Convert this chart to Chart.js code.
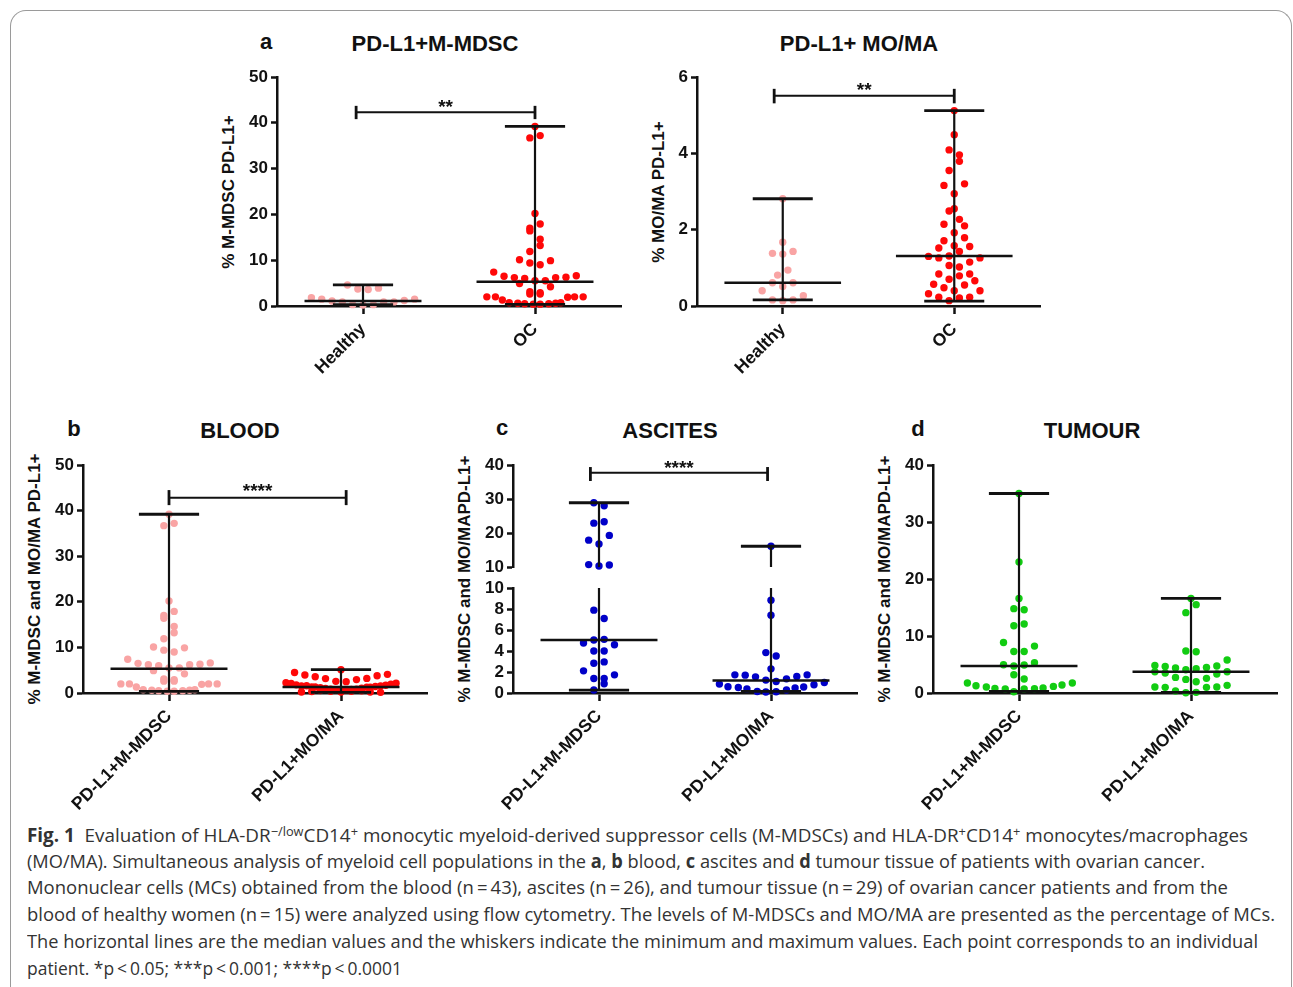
<!DOCTYPE html>
<html>
<head>
<meta charset="utf-8">
<script src="https://cdn.jsdelivr.net/npm/chart.js@4.4.1/dist/chart.umd.min.js"></script>
<style>
  html, body { margin: 0; padding: 0; background: #fff; }
  body { width: 1293px; height: 987px; position: relative; overflow: hidden;
         font-family: "Liberation Sans", Arial, sans-serif; color: #111; }
  .frame { position: absolute; left: 10px; top: 10px; width: 1282px; height: 1000px;
           border: 1px solid #9a9a9a; border-bottom: none; border-radius: 16px 16px 0 0; box-sizing: border-box; }
  canvas { position: absolute; }
  .lbl { position: absolute; font-weight: bold; line-height: 1; white-space: nowrap; transform: translate(-50%, -50%); }
  .ttl { font-size: 22px; }
  .ytitle { position: absolute; font-weight: bold; font-size: 17px; line-height: 1; white-space: nowrap;
            transform: translate(-50%, -50%) rotate(-90deg); }
  .cap { position: absolute; left: 27px; font-family: "Open Sans", "Noto Sans", sans-serif; font-size: 19px;
         line-height: 26px; color: #333; white-space: nowrap; transform-origin: 0 50%; }
  .cap sup { font-size: 0.68em; line-height: 0; vertical-align: 0.5em; }
</style>
</head>
<body>
<div class="frame"></div>

<div class="lbl ttl" style="left:266px;top:42px">a</div>
<div class="lbl ttl" style="left:435px;top:44px">PD-L1+M-MDSC</div>
<div class="lbl ttl" style="left:859px;top:44px">PD-L1+ MO/MA</div>
<div class="lbl ttl" style="left:74px;top:429px">b</div>
<div class="lbl ttl" style="left:240px;top:431px">BLOOD</div>
<div class="lbl ttl" style="left:502px;top:428px">c</div>
<div class="lbl ttl" style="left:670px;top:431px">ASCITES</div>
<div class="lbl ttl" style="left:918px;top:429px">d</div>
<div class="lbl ttl" style="left:1092px;top:431px">TUMOUR</div>

<div class="ytitle" style="left:228px;top:192px">% M-MDSC PD-L1+</div>
<div class="ytitle" style="left:658px;top:192px">% MO/MA PD-L1+</div>
<div class="ytitle" style="left:34px;top:579px">% M-MDSC and MO/MA PD-L1+</div>
<div class="ytitle" style="left:464px;top:579px">% M-MDSC and MO/MAPD-L1+</div>
<div class="ytitle" style="left:884px;top:579px">% M-MDSC and MO/MAPD-L1+</div>

<canvas id="chartA1"></canvas>
<canvas id="chartA2"></canvas>
<canvas id="chartB"></canvas>
<canvas id="chartCTop"></canvas>
<canvas id="chartCLow"></canvas>
<canvas id="chartD"></canvas>

<div class="cap" data-w="1221" style="top:822px"><b>Fig. 1</b>&nbsp; Evaluation of HLA-DR<sup>−/low</sup>CD14<sup>+</sup> monocytic myeloid-derived suppressor cells (M-MDSCs) and HLA-DR<sup>+</sup>CD14<sup>+</sup> monocytes/macrophages</div>
<div class="cap" data-w="1178" style="top:848px">(MO/MA). Simultaneous analysis of myeloid cell populations in the <b>a</b>, <b>b</b> blood, <b>c</b> ascites and <b>d</b> tumour tissue of patients with ovarian cancer.</div>
<div class="cap" data-w="1201" style="top:874px">Mononuclear cells (MCs) obtained from the blood (n&#8201;=&#8201;43), ascites (n&#8201;=&#8201;26), and tumour tissue (n&#8201;=&#8201;29) of ovarian cancer patients and from the</div>
<div class="cap" data-w="1248" style="top:901px">blood of healthy women (n&#8201;=&#8201;15) were analyzed using flow cytometry. The levels of M-MDSCs and MO/MA are presented as the percentage of MCs.</div>
<div class="cap" data-w="1231" style="top:928px">The horizontal lines are the median values and the whiskers indicate the minimum and maximum values. Each point corresponds to an individual</div>
<div class="cap" data-w="375" style="top:955px">patient. *p&#8201;&lt;&#8201;0.05; ***p&#8201;&lt;&#8201;0.001; ****p&#8201;&lt;&#8201;0.0001</div>

<script>
// ---- data ----
const catPos = [1, 2];
const aCats = ['Healthy', 'OC'];
const siteCats = ['PD-L1+M-MDSC', 'PD-L1+MO/MA'];

const yTicksA1 = [0, 10, 20, 30, 40, 50];
const yTicksA2 = [0, 2, 4, 6];
const yTicksB = [0, 10, 20, 30, 40, 50];
const yTicksCTop = [10, 20, 30, 40];
const yTicksCLow = [0, 2, 4, 6, 8, 10];
const yTicksD = [0, 10, 20, 30, 40];

// blood, % M-MDSC PD-L1+ (x = jitter in category units)
const healthyMdsc = [4.6, 3.7, 3.6, 3.9, 1.8, 1.5, 1.1, 0.9, 0.9, 0.9, 1.2, 1.5, 0.3, 0.2, 0.3];
const healthyMdscX = [-0.09, -0.03, 0.03, 0.09, -0.30, -0.24, -0.18, -0.12, 0.12, 0.18, 0.24, 0.30, -0.06, 0, 0.06];
const ocMdsc = [39.2, 36.7, 37.2, 20.2, 17.0, 17.9, 16.4, 14.6, 13.2, 11.9,
  10.1, 9.4, 9.0, 9.9, 7.4, 6.5, 6.2, 6.0, 5.5, 5.5,
  6.2, 6.3, 6.6, 4.9, 4.2, 3.1, 2.9, 2.6, 2.6, 2.0,
  2.0, 1.3, 1.9, 2.0, 2.0, 0.7, 0.6, 0.5, 0.4, 0.4, 0.5, 0.6, 0.7];
const ocMdscX = [0, -0.03, 0.03, 0, -0.03, 0.03, -0.03, 0.03, 0.03, -0.03,
  -0.09, -0.03, 0.03, 0.09, -0.24, -0.18, -0.12, -0.06, 0, 0.06,
  0.12, 0.18, 0.24, -0.09, 0.09, -0.03, 0.03, -0.03, 0.03, -0.28,
  -0.23, -0.19, 0.19, 0.23, 0.28, -0.15, -0.10, -0.06, -0.01, 0.03, 0.08, 0.12, 0.15];

// blood, % MO/MA PD-L1+
const healthyMoma = [2.81, 1.67, 1.38, 1.36, 1.43, 0.81, 0.94, 0.61, 0.51, 0.61, 0.40, 0.27, 0.16, 0.14, 0.16];
const healthyMomaX = [0, 0, -0.06, 0, 0.06, -0.03, 0.03, -0.06, 0, 0.06, -0.12, 0.12, -0.06, 0, 0.06];
const ocMoma = [5.12, 4.49, 4.09, 3.96, 3.79, 3.55, 3.16, 3.20, 2.94, 2.55,
  2.49, 2.27, 2.14, 2.10, 1.92, 1.79, 1.71, 1.56, 1.52, 1.58,
  1.43, 1.30, 1.26, 1.31, 1.26, 1.15, 1.06, 1.02, 0.84, 0.84,
  0.79, 0.70, 0.66, 0.57, 0.55, 0.48, 0.40, 0.40, 0.32, 0.23,
  0.23, 0.21, 0.14];
const ocMomaX = [0, 0, -0.03, 0.03, 0.03, -0.03, -0.06, 0.06, 0, 0,
  -0.03, 0.03, -0.06, 0.06, 0, 0.06, -0.06, 0.09, -0.09, 0,
  0.03, -0.15, -0.09, -0.03, 0.15, 0.09, -0.03, 0.03, -0.09, 0.09,
  0.03, -0.03, 0.12, -0.12, 0.06, -0.06, 0, 0.15, -0.15, -0.09,
  0.09, 0.03, -0.03];
// same values, jitter as they sit in panel b
const ocMomaBloodX = [0, -0.27, 0.27, -0.21, 0.21, -0.15, -0.09, 0.15, 0.09, -0.03,
  0.03, -0.32, 0.32, -0.29, 0.29, -0.26, 0.26, 0.23, -0.23, -0.20,
  0.20, -0.17, 0.17, -0.15, 0.15, -0.12, 0.12, -0.09, 0.09, -0.06,
  0.06, -0.03, 0.03, 0, -0.12, 0.12, -0.06, 0.06, -0.17, 0.17,
  0, -0.23, 0.23];

// ascites
const ascMdsc = [28.9, 28.0, 22.9, 23.3, 17.9, 19.3, 16.8, 10.7, 10.3, 10.6,
  7.89, 7.10, 5.05, 5.11, 4.76, 4.60, 4.0, 4.0, 2.84, 2.96,
  2.11, 1.73, 1.38, 1.38, 0.88, 0.28];
const ascMdscX = [-0.03, 0.03, -0.03, 0.03, -0.06, 0.06, 0, -0.06, 0, 0.06,
  -0.03, 0.03, -0.03, 0.03, -0.09, 0.09, -0.03, 0.03, -0.03, 0.03,
  -0.09, 0.09, -0.03, 0.03, 0.03, -0.03];
const ascMoma = [16.1, 8.84, 7.41, 3.85, 3.53, 2.30, 1.73, 1.70, 1.54, 1.23,
  1.10, 1.35, 1.57, 1.73, 0.85, 0.60, 0.53, 0.38, 0.15, 0.09,
  0.12, 0.28, 0.47, 0.57, 0.79, 1.0];
const ascMomaX = [0, 0, 0, -0.03, 0.03, 0, -0.21, -0.15, -0.09, -0.03,
  0.03, 0.09, 0.15, 0.21, -0.30, -0.25, -0.19, -0.14, -0.08, -0.03,
  0.03, 0.09, 0.14, 0.19, 0.25, 0.31];

// tumour
const tumMdsc = [35.0, 23.0, 16.6, 14.8, 14.6, 11.8, 12.1, 8.87, 8.23, 7.29,
  7.29, 4.96, 4.73, 4.90, 5.31, 3.21, 2.45, 1.75, 1.28, 1.05,
  0.81, 0.70, 0.23, 0.70, 0.75, 0.87, 1.16, 1.40, 1.75];
const tumMdscX = [0, 0, 0, -0.03, 0.03, -0.03, 0.03, -0.09, 0.09, -0.03,
  0.03, -0.09, -0.03, 0.03, 0.09, -0.03, 0.03, -0.30, -0.25, -0.19,
  -0.14, -0.08, -0.03, 0.03, 0.09, 0.14, 0.20, 0.25, 0.31];
const tumMoma = [16.6, 15.5, 14.1, 7.36, 7.24, 5.78, 4.84, 4.67, 4.38, 4.08,
  4.26, 4.49, 4.73, 3.73, 3.50, 3.73, 3.33, 2.74, 2.39, 1.98,
  2.57, 1.05, 0.99, 0.99, 1.05, 1.34, 0.35, 0.05, 0.11];
const tumMomaX = [0, 0.03, -0.03, -0.03, 0.03, 0.21, -0.21, -0.15, -0.09, -0.03,
  0.03, 0.09, 0.15, -0.21, -0.15, 0.21, 0.15, -0.09, -0.03, 0.03,
  0.09, -0.21, -0.15, 0.09, 0.15, 0.21, -0.09, -0.03, 0.03];

// [median, min, max]
const statHealthyMdsc = [1.1, 0.3, 4.6];
const statOcMdsc = [5.3, 0.35, 39.2];
const statHealthyMoma = [0.61, 0.16, 2.81];
const statOcMoma = [1.31, 0.13, 5.12];
const statAscMdsc = [5.05, 0.28, 28.9];
const statAscMoma = [1.19, 0.15, 16.1];
const statTumMdsc = [4.73, 0.28, 35.0];
const statTumMoma = [3.73, 0.11, 16.6];

// significance brackets: [x from, x to, tick low, line, tick high]
const sigA1 = [0.96, 2.0, 40.8, 42.3, 43.7];
const sigA2 = [0.95, 2.0, 5.31, 5.51, 5.69];
const sigB = [1.0, 2.03, 41.2, 42.8, 44.5];
const sigC = [0.95, 1.98, 35.3, 37.7, 39.4];

// ---- drawing ----
const INK = '#111';
const PINK = 'rgb(249,164,164)';
const RED = 'rgb(255,8,8)';
const BLUE = 'rgb(0,0,200)';
const GREEN = 'rgb(18,204,18)';
const MED_HALF = 0.34;
const CAP_HALF = 0.175;

Chart.defaults.font.family = '"Liberation Sans", Arial, sans-serif';
Chart.defaults.color = INK;

// stars above a bracket
Chart.register({
  id: 'sig',
  afterDatasetsDraw(chart, args, opts) {
    if (!opts.text) return;
    const { ctx, scales: { x, y } } = chart;
    const px = x.getPixelForValue((opts.from + opts.to) / 2);
    const py = y.getPixelForValue(opts.y);
    ctx.save();
    ctx.fillStyle = INK;
    ctx.font = 'bold 19px "Liberation Sans", Arial, sans-serif';
    ctx.textAlign = 'center';
    ctx.textBaseline = 'alphabetic';
    ctx.fillText(opts.text, px, py + 7);
    ctx.restore();
  }
});

function dots(vals, jit, cat, color, keep) {
  const data = [];
  vals.forEach((v, i) => { if (!keep || keep(v)) data.push({ x: cat + jit[i], y: v }); });
  return { data, backgroundColor: color, borderWidth: 0, pointRadius: 3.7, order: 1, clip: 8 };
}

function seg(x1, y1, x2, y2, w, clip) {
  return { data: [{ x: x1, y: y1 }, { x: x2, y: y2 }], showLine: true, borderColor: INK,
           borderWidth: w, pointRadius: 0, order: 0, clip: clip };
}

function whiskers(cat, stat, clip) {
  const [med, lo, hi] = stat;
  return [
    seg(cat - MED_HALF, med, cat + MED_HALF, med, 2.5, clip),
    seg(cat - CAP_HALF, hi, cat + CAP_HALF, hi, 2.8, clip),
    seg(cat - CAP_HALF, lo, cat + CAP_HALF, lo, 2.8, clip),
    seg(cat, lo, cat, hi, 2.2, clip)
  ];
}

function bracket(sig) {
  const [x1, x2, lo, mid, hi] = sig;
  return [
    seg(x1, mid, x2, mid, 2, 8),
    seg(x1, lo, x1, hi, 2.8, 8),
    seg(x2, lo, x2, hi, 2.8, 8)
  ];
}

// area = [left, top, right, bottom] of the plot area on the page
function buildChart(id, area, cfg) {
  const yW = 50, padT = 16, padR = 12;
  const xH = cfg.cats ? cfg.xH : 4;
  const canvas = document.getElementById(id);
  const w = yW + area[2] - area[0] + padR;
  const h = padT + area[3] - area[1] + xH;
  canvas.width = w; canvas.height = h;
  canvas.style.width = w + 'px'; canvas.style.height = h + 'px';
  canvas.style.left = (area[0] - yW) + 'px';
  canvas.style.top = (area[1] - padT) + 'px';

  const sig = cfg.sig ? { from: cfg.sig[0], to: cfg.sig[1], y: cfg.sig[4], text: cfg.stars } : {};

  return new Chart(canvas, {
    type: 'scatter',
    data: { datasets: cfg.datasets },
    options: {
      responsive: false,
      animation: false,
      events: [],
      layout: { padding: { top: padT, right: padR, left: 0, bottom: cfg.cats ? 0 : xH } },
      plugins: { legend: { display: false }, tooltip: { enabled: false }, sig: sig },
      scales: {
        x: {
          type: 'linear', min: 0.5, max: 2.5, display: !!cfg.cats,
          afterBuildTicks: s => { s.ticks = catPos.map(v => ({ value: v })); },
          afterFit: s => { s.height = xH; s.paddingLeft = 0; s.paddingRight = 0; },
          ticks: {
            callback: (v, i) => cfg.cats ? cfg.cats[i] : '',
            autoSkip: false, minRotation: 45, maxRotation: 45, padding: 5,
            color: INK, font: { size: 17.5, weight: 'bold' }
          },
          grid: { drawOnChartArea: false, drawTicks: true, tickLength: 8, tickWidth: 2.5, tickColor: INK },
          border: { display: true, color: INK, width: 2.5 }
        },
        y: {
          type: 'linear', min: cfg.yMin, max: cfg.yMax,
          afterBuildTicks: s => { s.ticks = cfg.yTicks.map(v => ({ value: v })); },
          afterFit: s => { s.width = yW; s.paddingTop = 0; s.paddingBottom = 0; },
          ticks: { color: INK, font: { size: 17, weight: 'bold' }, padding: 3, autoSkip: false },
          grid: { drawOnChartArea: false, drawTicks: true, tickLength: 6, tickWidth: 2.5, tickColor: INK },
          border: { display: true, color: INK, width: 2.5 }
        }
      }
    }
  });
}

// a: healthy vs OC blood
buildChart('chartA1', [277, 77, 621, 306], {
  yMin: 0, yMax: 50, yTicks: yTicksA1, cats: aCats, xH: 90, sig: sigA1, stars: '**',
  datasets: [
    ...whiskers(1, statHealthyMdsc, 8), ...whiskers(2, statOcMdsc, 8), ...bracket(sigA1),
    dots(healthyMdsc, healthyMdscX, 1, PINK), dots(ocMdsc, ocMdscX, 2, RED)
  ]
});
buildChart('chartA2', [697, 77, 1040, 306], {
  yMin: 0, yMax: 6, yTicks: yTicksA2, cats: aCats, xH: 90, sig: sigA2, stars: '**',
  datasets: [
    ...whiskers(1, statHealthyMoma, 8), ...whiskers(2, statOcMoma, 8), ...bracket(sigA2),
    dots(healthyMoma, healthyMomaX, 1, PINK), dots(ocMoma, ocMomaX, 2, RED)
  ]
});

// b: blood
buildChart('chartB', [83, 465, 427, 693], {
  yMin: 0, yMax: 50, yTicks: yTicksB, cats: siteCats, xH: 128, sig: sigB, stars: '****',
  datasets: [
    ...whiskers(1, statOcMdsc, 8), ...whiskers(2, statOcMoma, 8), ...bracket(sigB),
    dots(ocMdsc, ocMdscX, 1, PINK), dots(ocMoma, ocMomaBloodX, 2, RED)
  ]
});

// c: ascites, broken y axis (10-40 above, 0-10 below)
const topClip = { left: 8, right: 8, top: 8, bottom: 0 };
const lowClip = { left: 8, right: 8, top: 0, bottom: 8 };
buildChart('chartCTop', [513, 465, 857, 571], {
  yMin: 10, yMax: 40, yTicks: yTicksCTop, cats: null, sig: sigC, stars: '****',
  datasets: [
    ...whiskers(1, statAscMdsc, topClip), ...whiskers(2, statAscMoma, topClip), ...bracket(sigC),
    dots(ascMdsc, ascMdscX, 1, BLUE, v => v >= 10), dots(ascMoma, ascMomaX, 2, BLUE, v => v >= 10)
  ]
});
buildChart('chartCLow', [513, 588, 857, 693], {
  yMin: 0, yMax: 10, yTicks: yTicksCLow, cats: siteCats, xH: 128,
  datasets: [
    ...whiskers(1, statAscMdsc, lowClip), ...whiskers(2, statAscMoma, lowClip),
    dots(ascMdsc, ascMdscX, 1, BLUE, v => v < 10), dots(ascMoma, ascMomaX, 2, BLUE, v => v < 10)
  ]
});

// d: tumour
buildChart('chartD', [933, 465, 1277, 693], {
  yMin: 0, yMax: 40, yTicks: yTicksD, cats: siteCats, xH: 128,
  datasets: [
    ...whiskers(1, statTumMdsc, 8), ...whiskers(2, statTumMoma, 8),
    dots(tumMdsc, tumMdscX, 1, GREEN), dots(tumMoma, tumMomaX, 2, GREEN)
  ]
});

// squeeze each caption line to the width it has in the figure
document.querySelectorAll('.cap').forEach(el => {
  const natural = el.getBoundingClientRect().width;
  el.style.transform = 'scaleX(' + (el.dataset.w / natural) + ')';
});
</script>
</body>
</html>
